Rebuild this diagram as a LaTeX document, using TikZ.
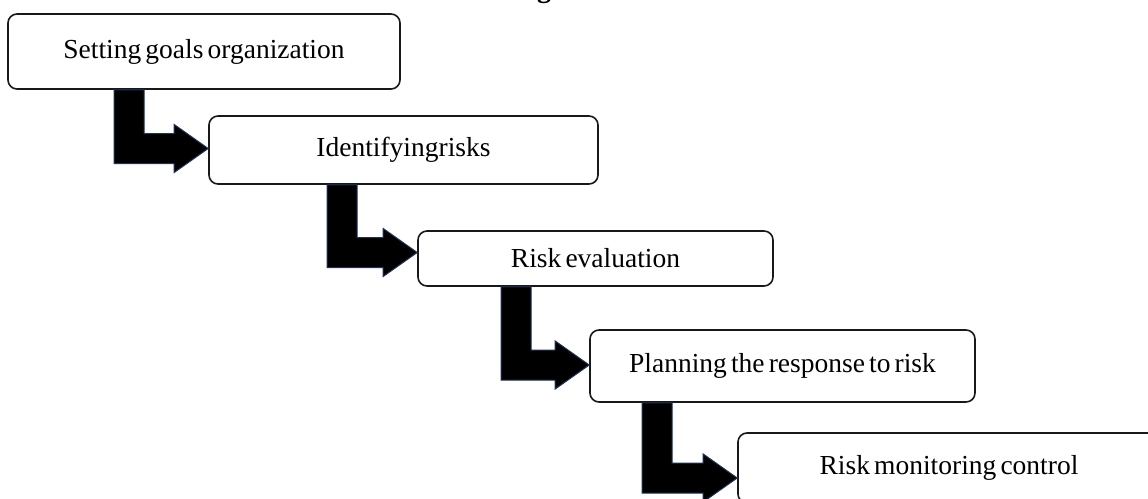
\documentclass[tikz,border=0pt]{standalone}
\usepackage{fontspec}
\setmainfont{Liberation Serif}[WordSpace=0.6]
\usetikzlibrary{calc}
\definecolor{arrowedge}{RGB}{30,52,92}
\tikzset{
  stepbox/.style={draw=black!90, line width=1.6pt, rounded corners=9pt, fill=white,
    inner sep=0pt, align=center, font=\fontsize{27.5}{30}\selectfont},
  elbow/.style={fill=black, draw=arrowedge, line width=1pt, line join=miter},
}
\newcommand{\elbowarrow}[4]{%
  \coordinate (ea-top) at ($(#1.south west)+(#3,0)$);
  \coordinate (ea-tip) at ($(#2.west)+(0,#4)$);
  \filldraw[elbow] (ea-top) -- ++(30,0) |- ($(ea-tip)+(-34,-15)$) -- ++(0,-9)
    -- (ea-tip) -- ($(ea-tip)+(-34,24)$) -- ++(0,-9) -| (ea-top) -- cycle;
}
\begin{document}
\begin{tikzpicture}[x=1pt,y=-1pt]
\useasboundingbox (0,0) rectangle (1148,498);
\clip (0,0) rectangle (1148,498);
\fill[white] (0,0) rectangle (1148,498);
\node[font=\bfseries\fontsize{28}{30}\selectfont, inner sep=0pt, anchor=south] (title) at (544,3.5) {g};
\node[stepbox, minimum width=392pt, minimum height=75pt] (b1) at (204,51.5) {Setting goals organization};
\node[stepbox, minimum width=389pt, minimum height=68pt] (b2) at (403.5,150) {Identifyingrisks};
\node[stepbox, minimum width=355pt, minimum height=55pt] (b3) at (595.5,258.5) {Risk evaluation};
\node[stepbox, minimum width=385pt, minimum height=72pt] (b4) at (782.5,366) {Planning the response to risk};
\node[stepbox, minimum width=422pt, minimum height=70pt] (b5) at (949,468) {Risk monitoring control};
\elbowarrow{b1}{b2}{107}{-1.5}
\elbowarrow{b2}{b3}{119}{-6}
\elbowarrow{b3}{b4}{84}{-1}
\elbowarrow{b4}{b5}{53}{10}
\end{tikzpicture}
\end{document}
